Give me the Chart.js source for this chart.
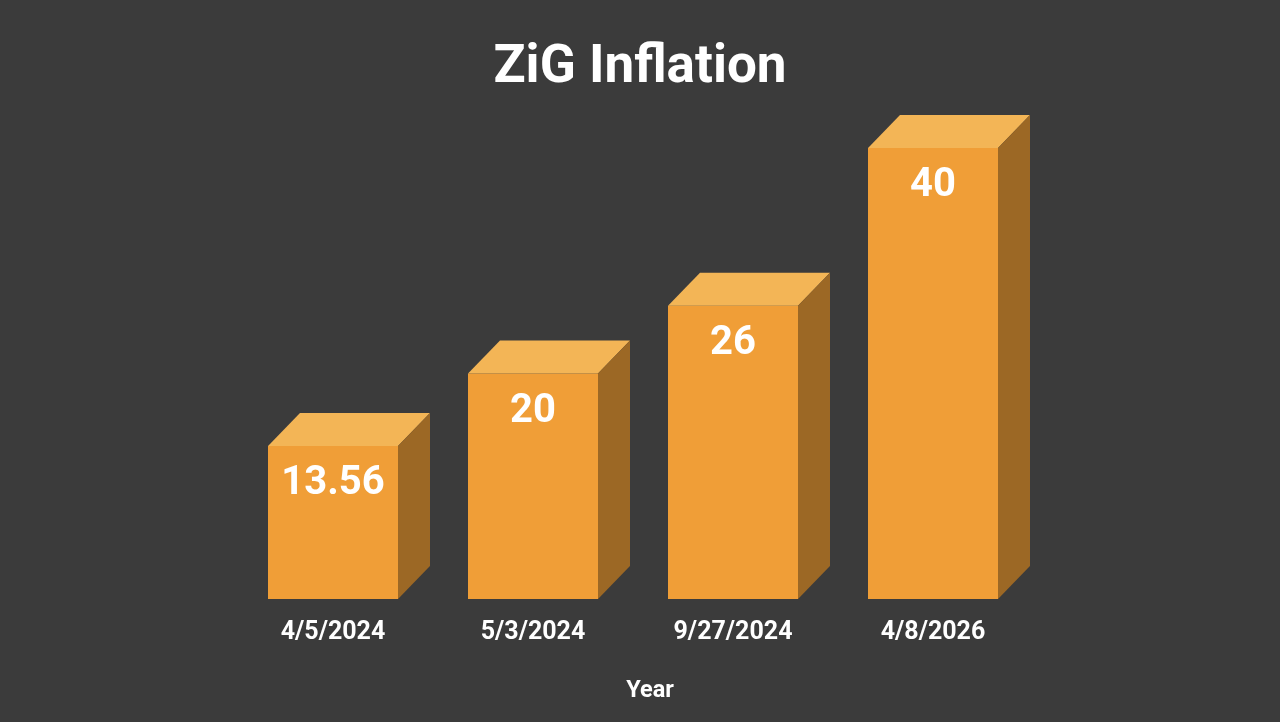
<!DOCTYPE html>
<html><head><meta charset="utf-8">
<script src="https://cdn.jsdelivr.net/npm/chart.js@4/dist/chart.umd.min.js"></script>
<style>html,body{margin:0;padding:0;background:#3b3b3b}#w{width:1280px;height:722px}</style>
</head><body><div id="w"><canvas id="c"></canvas></div>
<script>
const categories = ["4/5/2024","5/3/2024","9/27/2024","4/8/2026"];
const values = [13.56, 20, 26, 40];
const valueLabels = ["13.56","20","26","40"];
const chartTitle = "ZiG Inflation";
const xTitle = "Year";

const threeD = {
  id:'threeD',
  afterDatasetsDraw(chart){
    const ctx = chart.ctx, meta = chart.getDatasetMeta(0);
    const dx = 32, dy = 33;
    meta.data.forEach((b,i)=>{
      const l = b.x - b.width/2, r = b.x + b.width/2, t = b.y, bt = b.base;
      ctx.save();
      ctx.fillStyle = '#f3b556';
      ctx.beginPath(); ctx.moveTo(l,t); ctx.lineTo(l+dx,t-dy); ctx.lineTo(r+dx,t-dy); ctx.lineTo(r,t); ctx.closePath(); ctx.fill();
      ctx.fillStyle = '#9c6825';
      ctx.beginPath(); ctx.moveTo(r,t); ctx.lineTo(r+dx,t-dy); ctx.lineTo(r+dx,bt-dy); ctx.lineTo(r,bt); ctx.closePath(); ctx.fill();
      ctx.fillStyle = '#ffffff';
      ctx.font = 'bold 40px Roboto';
      ctx.textAlign = 'center'; ctx.textBaseline = 'middle';
      ctx.fillText(valueLabels[i], b.x, t + 38);
      ctx.restore();
    });
    ctx.save();
    ctx.fillStyle='#ffffff'; ctx.textAlign='center'; ctx.textBaseline='middle';
    ctx.font='bold 53px Roboto';
    ctx.fillText(chartTitle, 640, 69);
    ctx.font='bold 23.5px Roboto';
    ctx.fillText(xTitle, 650, 691);
    ctx.restore();
  }
};

new Chart(document.getElementById('c'), {
  type:'bar',
  data:{labels:categories, datasets:[{data:values, backgroundColor:'#f09e37', borderWidth:0, barPercentage:0.65, categoryPercentage:1}]},
  options:{
    responsive:true, maintainAspectRatio:false, animation:false,
    layout:{padding:{left:233,right:247,top:148,bottom:55}},
    plugins:{legend:{display:false}, tooltip:{enabled:false}, title:{display:false}},
    scales:{
      y:{display:false,min:0,max:40},
      x:{grid:{display:false,drawTicks:false},border:{display:false},
         ticks:{color:'#ffffff',font:{family:'Roboto',weight:'bold',size:25},padding:19,maxRotation:0}}
    }
  },
  plugins:[threeD]
});
</script></body></html>
